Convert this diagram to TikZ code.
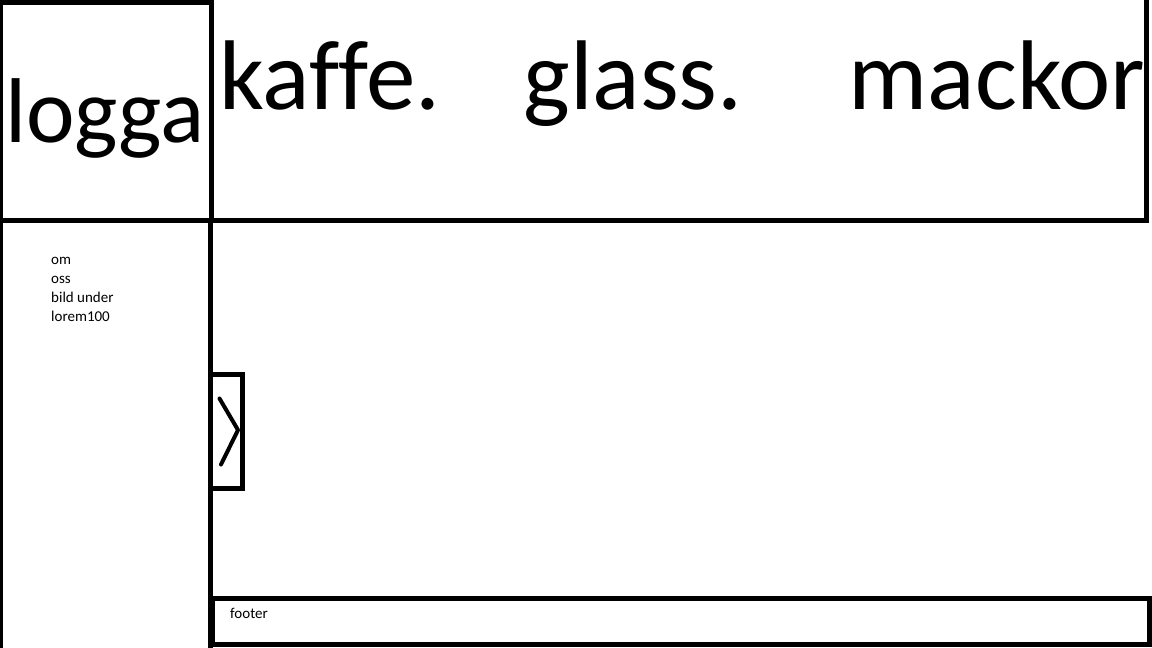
\documentclass[tikz,border=0pt]{standalone}
\usepackage{fontspec}
\setmainfont{Carlito}[Ligatures=NoCommon]
\tikzset{
	frame/.style={line width=5pt, color=black},
	bigtext/.style={inner sep=0, anchor=base, font=\fontsize{99}{100}\selectfont},
	smalltext/.style={inner sep=0, anchor=base west, font=\fontsize{15}{19}\selectfont}
}

\begin{document}
\begin{tikzpicture}[x=1pt, y=-1pt]
		%%%%% START %%%%%
		
		\useasboundingbox (0, 0) rectangle (1152, 648);
		\clip (0, 0) rectangle (1152, 648);
		
		% header
		\draw[frame] (0, 2.5) rectangle (211.5, 220);
		\draw[frame] (211.5, -5) rectangle (1146.5, 220);
		\draw[frame] (0, 220) -- (1149, 220);
		
		\node[bigtext, font=\fontsize{92}{100}\selectfont] (logga) at (105, 142) {logga};
		\node[bigtext] (kaffe) at (330, 109) {kaffe.};
		\node[bigtext] (glass) at (633, 109) {glass.};
		\node[bigtext] (mackor) at (997, 109) {mackor};
		
		% sidebar
		\draw[frame] (0, 220) -- (0, 655);
		\draw[frame] (210.5, 220) -- (210.5, 655);
		
		\node[smalltext] (om) at (51, 264) {om};
		\node[smalltext] (oss) at (51, 283) {oss};
		\node[smalltext] (bild) at (51, 302) {bild under};
		\node[smalltext] (lorem) at (51, 321) {lorem100};
		
		% slider arrow
		\draw[frame] (210.5, 374) rectangle (242, 488.5);
		\draw[line width=4pt, line cap=round, line join=round] (219.5, 398.5) -- (238, 430) -- (221, 464.5);
		
		% footer
		\draw[frame] (212, 598.5) rectangle (1149.5, 644.5);
		\node[smalltext] (footer) at (230, 618) {footer};
		
		%%%%% END %%%%%
	\end{tikzpicture}
\end{document}
